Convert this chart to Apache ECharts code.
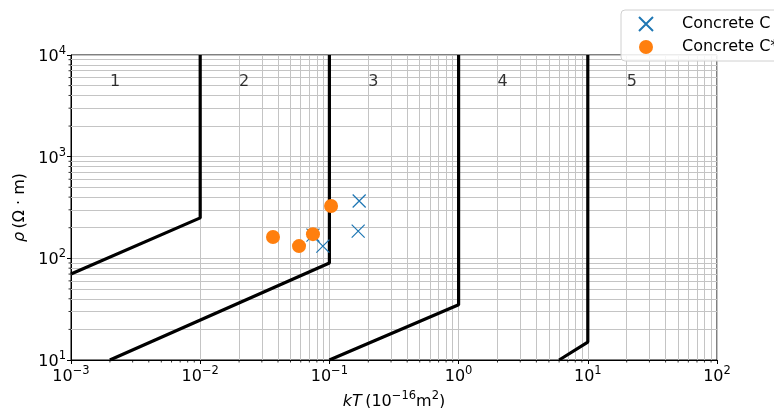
<!DOCTYPE html>
<html>
<head>
<meta charset="utf-8">
<script src="https://cdn.jsdelivr.net/npm/echarts@6/dist/echarts.min.js"></script>
<style>html,body{margin:0;padding:0;background:#fff}#c{width:774px;height:408px}</style>
</head>
<body>
<div id="c"></div>
<script>
// ---- data ----
const xRange = [1e-3, 1e2];
const yRange = [10, 1e4];
const boundary1 = [[1e-3, 70], [1e-2, 250], [1e-2, 1e4]];
const boundary2 = [[2e-3, 10], [0.1, 90], [0.1, 1e4]];
const boundary3 = [[0.1, 10], [1, 35], [1, 1e4]];
const boundary4 = [[6, 10], [10, 15], [10, 1e4]];
const concreteC = [[0.170, 366], [0.167, 185], [0.089, 132], [0.0746, 169]];
const concreteCStar = [[0.0366, 162], [0.0582, 132], [0.0746, 173], [0.103, 327]];
const zoneNames = ['1', '2', '3', '4', '5'];
const zoneX = [2e-3, 2e-2, 2e-1, 2, 20];
const zoneY = 5000;

// minor grid positions (2..9 x 10^d)
function minors(lo, hi) {
  const out = [];
  for (let d = Math.round(Math.log10(lo)); d < Math.round(Math.log10(hi)); d++) {
    for (let k = 2; k <= 9; k++) out.push(k * Math.pow(10, d));
  }
  return out;
}
const xMinor = minors(xRange[0], xRange[1]);
const yMinor = minors(yRange[0], yRange[1]);

const FONT = 'DejaVu Sans';
const sup = s => s.replace(/-/g, '\u2212');
function powLabel(v) {
  const e = Math.round(Math.log10(v));
  return '{b|10}{s|' + sup(String(e)) + '}';
}
const richTick = {
  b: { fontFamily: FONT, fontSize: 16, color: '#000', lineHeight: 20, verticalAlign: 'bottom' },
  s: { fontFamily: FONT, fontSize: 11.5, color: '#000', lineHeight: 12, verticalAlign: 'top' }
};
const gridGray = '#c4c4c4';

const blackLine = d => ({
  type: 'line', data: d, symbol: 'none', z: 10, silent: true,
  lineStyle: { color: '#000', width: 3.2, opacity: 1 }, animation: false,
  emphasis: { disabled: true }
});

const chart = echarts.init(document.getElementById('c'), null, { renderer: 'canvas' });
chart.setOption({
  animation: false,
  grid: { left: 71, right: 57, top: 55, bottom: 48, show: true, borderColor: '#000', borderWidth: 1,
    backgroundColor: 'transparent', containLabel: false, outerBoundsMode: 'none' },
  legend: {
    left: 621, top: 10, orient: 'vertical',
    data: ['Concrete C', 'Concrete C*'],
    itemWidth: 14, itemHeight: 14, itemGap: 7,
    padding: [6, 14, 6, 17],
    backgroundColor: 'rgba(255,255,255,0.85)', borderColor: '#d0d0d0', borderWidth: 1, borderRadius: 4,
    textStyle: { fontFamily: FONT, fontSize: 16, color: '#000', padding: [0, 0, 0, 24] },
    z: 30
  },
  xAxis: {
    type: 'log', logBase: 10, min: xRange[0], max: xRange[1],
    name: '{i|kT} {b|(10}{s|\u221216}{b|m}{s|2}{b|)}',
    nameLocation: 'middle', nameGap: 28,
    nameTextStyle: { rich: {
      i: { fontFamily: FONT, fontSize: 16, fontStyle: 'italic', lineHeight: 20, verticalAlign: 'bottom', color: '#000' },
      b: { fontFamily: FONT, fontSize: 16, lineHeight: 20, verticalAlign: 'bottom', color: '#000' },
      s: { fontFamily: FONT, fontSize: 11.5, lineHeight: 12, verticalAlign: 'top', color: '#000' }
    } },
    axisLine: { show: true, lineStyle: { color: '#000', width: 1 } },
    axisTick: { show: true, inside: false, length: 4, lineStyle: { color: '#000' } },
    axisLabel: { formatter: powLabel, rich: richTick, margin: 5 },
    splitLine: { show: true, lineStyle: { color: gridGray, width: 1 } }
  },
  yAxis: {
    type: 'log', logBase: 10, min: yRange[0], max: yRange[1],
    name: '{i|\u03c1} {b|(\u03a9 \u00b7 m)}',
    nameLocation: 'middle', nameGap: 42, nameRotate: 90,
    nameTextStyle: { rich: {
      i: { fontFamily: FONT, fontSize: 16, fontStyle: 'italic', color: '#000' },
      b: { fontFamily: FONT, fontSize: 16, color: '#000' }
    } },
    axisLine: { show: true, lineStyle: { color: '#000', width: 1 } },
    axisTick: { show: true, inside: false, length: 4, lineStyle: { color: '#000' } },
    axisLabel: { formatter: powLabel, rich: richTick, margin: 5 },
    splitLine: { show: true, lineStyle: { color: gridGray, width: 1 } }
  },
  series: [
    {
      type: 'line', data: [], z: 1, silent: true, symbol: 'none',
      markLine: {
        z: 1, zlevel: 0,
        silent: true, symbol: 'none', animation: false,
        label: { show: false },
        lineStyle: { color: gridGray, width: 1, type: 'solid' },
        emphasis: { disabled: true },
        data: xMinor.map(v => ({ xAxis: v })).concat(yMinor.map(v => ({ yAxis: v })))
      }
    },
    {
      // minor ticks outside the axes
      type: 'custom', silent: true, clip: false, z: 2,
      data: xMinor.map(v => [v, 'x']).concat(yMinor.map(v => [v, 'y'])),
      renderItem: function (params, api) {
        const v = api.value(0);
        const isX = params.dataIndex < xMinor.length;
        const p = isX ? api.coord([v, yRange[0]]) : api.coord([xRange[0], v]);
        const shape = isX
          ? { x1: p[0], y1: p[1], x2: p[0], y2: p[1] + 2.5 }
          : { x1: p[0], y1: p[1], x2: p[0] - 2.5, y2: p[1] };
        return { type: 'line', shape: shape, style: { stroke: '#000', lineWidth: 0.8 } };
      },
      encode: { x: -1, y: -1 }
    },
    blackLine(boundary1), blackLine(boundary2), blackLine(boundary3), blackLine(boundary4),
    {
      name: 'Concrete C', type: 'scatter', data: concreteC, z: 11,
      symbol: 'path://M0,0L10,10M10,0L0,10', symbolSize: 13,
      itemStyle: { color: 'rgba(0,0,0,0)', borderColor: '#1f77b4', borderWidth: 1.2, opacity: 1 }
    },
    {
      name: 'Concrete C*', type: 'scatter', data: concreteCStar, z: 12,
      symbol: 'circle', symbolSize: 14,
      itemStyle: { color: '#ff7f0e', opacity: 1 }
    },
    {
      type: 'scatter', z: 13, silent: true, symbolSize: 0,
      data: zoneNames.map((n, i) => [zoneX[i], zoneY, n]),
      label: { show: true, position: [0, 0], align: 'left', verticalAlign: 'bottom', offset: [0, 4],
        formatter: p => p.data[2], fontFamily: FONT, fontSize: 16, color: '#000' }
    }
  ]
});
</script>
</body>
</html>
